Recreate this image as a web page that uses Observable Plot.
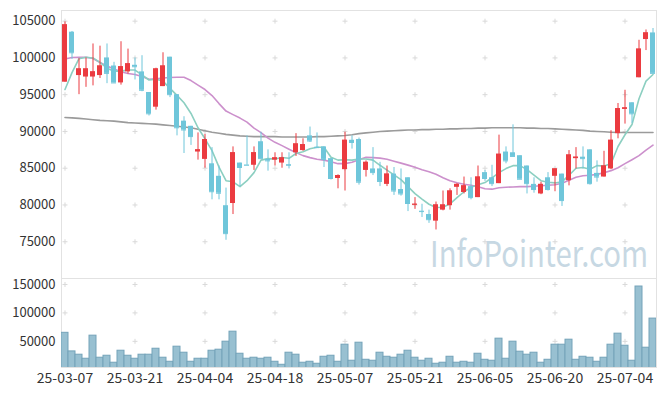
<!DOCTYPE html>
<html><head><meta charset="utf-8">
<script src="https://cdn.jsdelivr.net/npm/d3@7"></script>
<script src="https://cdn.jsdelivr.net/npm/@observablehq/plot@0.6"></script>
<style>
html,body{margin:0;padding:0;background:#fff;}
#chart{position:relative;width:665px;height:396px;overflow:hidden;font-family:"Noto Sans CJK KR","Noto Sans",sans-serif;}
#chart svg{position:absolute;left:0;}
</style></head><body><div id="chart"></div>
<script>
const dates = ["25-03-07","25-03-10","25-03-11","25-03-12","25-03-13","25-03-14","25-03-17","25-03-18","25-03-19","25-03-20",
"25-03-21","25-03-24","25-03-25","25-03-26","25-03-27","25-03-28","25-03-31","25-04-01","25-04-02","25-04-03",
"25-04-04","25-04-07","25-04-08","25-04-09","25-04-10","25-04-11","25-04-14","25-04-15","25-04-16","25-04-17",
"25-04-18","25-04-21","25-04-22","25-04-23","25-04-24","25-04-25","25-04-28","25-04-29","25-04-30","25-05-02",
"25-05-07","25-05-08","25-05-09","25-05-12","25-05-13","25-05-14","25-05-15","25-05-16","25-05-19","25-05-20",
"25-05-21","25-05-22","25-05-23","25-05-26","25-05-27","25-05-28","25-05-29","25-05-30","25-06-02","25-06-04",
"25-06-05","25-06-09","25-06-10","25-06-11","25-06-12","25-06-13","25-06-16","25-06-17","25-06-18","25-06-19",
"25-06-20","25-06-23","25-06-24","25-06-25","25-06-26","25-06-27","25-06-30","25-07-01","25-07-02","25-07-03",
"25-07-04","25-07-07","25-07-08","25-07-09","25-07-10"];
const open = [96700,103500,97600,97400,97400,97600,100000,98900,96600,98100,
99000,98100,95300,93300,96100,100100,95000,91400,90700,87200,
86200,85600,83900,79900,80200,85700,85450,85400,88600,86200,
86100,85700,85500,87100,87400,89400,87850,87900,86300,83600,
84800,88800,88900,84700,84900,84900,82800,84200,82100,83700,
80000,79150,78700,77800,79300,79900,82400,81700,82500,81000,
84400,83700,82900,87200,87100,86700,85300,82800,81500,83700,
83900,84200,83300,86300,86500,87500,84300,83800,84900,89700,
93000,93900,97300,102500,103400];
const high = [104900,103600,99900,100000,101900,101600,101900,99400,102200,101200,
100000,100300,95300,98600,100700,100100,95000,92000,90700,89800,
89600,87800,85300,82300,87900,85700,89400,87900,89900,87500,
87100,87100,87100,89700,89000,90600,89800,87900,86300,84100,
89900,89400,89100,86000,87800,85800,85300,85100,84900,83700,
81000,80100,79300,80400,81900,82200,82900,83800,83700,85300,
84700,85400,89500,87900,90900,86700,85300,83700,83100,84400,
84900,84200,87400,87800,87900,87500,86000,87300,90100,93800,
95600,93900,102400,103800,104000];
const low = [96700,99800,95000,96000,96200,97200,96500,96600,96300,97800,
97000,95400,92100,92900,96100,94600,89400,87000,88100,86100,
85000,80700,80700,75200,78700,82500,85400,84700,86300,84600,
85300,85000,84900,86600,87300,88500,87800,85100,83400,82200,
81900,87600,82700,83800,84000,82500,82500,81300,81200,79100,
79400,78300,77500,76600,79200,79300,81300,81500,80700,81000,
83200,82500,82900,85600,86600,83500,81500,81600,81400,81900,
81800,79800,82600,84900,84900,82700,83100,83800,84800,89000,
91000,91100,97300,101000,97900];
const close = [104500,100700,98500,98500,98100,98900,97900,96600,98800,99200,
98800,95600,92400,98500,98900,95000,90500,90200,89300,87500,
88900,81800,81600,76100,87100,85100,85400,87100,86300,86000,
86400,86400,85400,88300,88200,88700,87800,86200,83600,84000,
88800,88500,83100,85800,84400,83200,84200,81900,81500,80200,
80100,79100,78000,80000,80000,81900,82800,82600,81000,83800,
83600,82900,86900,86000,86600,83500,82900,82100,82800,82100,
84900,80600,86800,86500,86300,82900,83800,85300,88800,93100,
93200,92400,101200,103400,97900];
const volume = [65000,32300,26500,19400,60000,21200,24700,12400,33500,24700,
19400,26500,26500,37000,21200,14100,40600,30000,14100,19400,
19400,33500,35300,49400,67000,28200,19400,21200,19400,21200,
14100,8800,30000,26500,12400,14100,10600,22900,24700,14100,
44100,15900,47600,17600,15900,30000,22900,21200,26500,33500,
21200,15900,19400,10600,12400,22900,12400,14100,12400,28200,
17600,15900,54700,19400,49400,31800,26500,30000,12400,17600,
44100,44100,52900,17600,22900,21200,14100,21200,44100,63500,
42300,15900,146400,38800,90000];
const ma5 = [95700,98000,99900,100100,100000,99400,98600,98200,98200,98350,
98350,97700,97000,97100,96850,95850,94900,93900,92450,90500,
89000,87400,85150,83300,83150,82500,83300,84400,86100,86300,
86250,86450,86350,87000,87250,87650,87850,87850,86500,86100,
86150,86100,86250,86250,86100,85400,84750,84100,83450,82500,
81550,80800,80100,79650,79700,80150,81000,81800,82400,82750,
83050,83700,84400,84950,85350,85350,84800,84050,83300,83100,
83000,83150,84050,85000,85100,84850,85350,85300,85600,87950,
89550,90950,94450,96850,97750];
const ma20 = [99850,100060,100080,100100,99920,99380,98900,98490,98110,97880,
97740,97470,97100,97150,97260,97330,97370,97370,96920,96310,
95700,94880,93790,92770,92290,91820,91270,90450,89840,89090,
88520,88070,87590,87120,86710,86440,86230,86100,85890,85620,
85620,85820,86160,86480,86440,86370,86230,85960,85690,85420,
85120,84800,84530,84190,83710,83300,83030,82830,82690,82490,
82210,82150,82350,82420,82450,82490,82490,82550,82620,82690,
82760,82960,83370,83780,83980,84050,84160,84390,84670,85070,
85620,86160,86710,87460,88140];
const ma120 = [91900,91850,91780,91700,91600,91500,91450,91400,91300,91200,
91150,91100,91050,91000,90900,90800,90700,90600,90500,90300,
90100,89900,89750,89600,89500,89400,89350,89300,89300,89300,
89300,89250,89250,89250,89250,89250,89300,89300,89350,89400,
89450,89550,89700,89800,89900,90000,90050,90100,90150,90200,
90200,90250,90250,90300,90300,90350,90350,90400,90400,90450,
90450,90500,90500,90500,90500,90500,90450,90450,90400,90400,
90350,90300,90250,90200,90150,90050,90000,89950,89900,89850,
89850,89850,89850,89850,89850];
const priceTicks = [75000,80000,85000,90000,95000,100000,105000];
const volumeTicks = [50000,100000,150000];
const labelDates = dates.filter((d,i)=>i%10===0);
const watermark = "InfoPointer.com";

const RED = "#eb3b40", BLUE = "#6fc6da";
const rows = dates.map((d,i)=>({date:d, open:open[i], high:high[i], low:low[i], close:close[i],
  volume:volume[i], ma5:ma5[i], ma20:ma20[i], ma120:ma120[i], col: close[i] >= open[i] ? RED : BLUE}));
const plus = {draw(ctx,size){const r=Math.sqrt(size)/2; ctx.moveTo(-r,0); ctx.lineTo(r,0); ctx.moveTo(0,-r); ctx.lineTo(0,r);}};
const crosses = ys => labelDates.flatMap(d=>ys.map(v=>({date:d, v})));
const font = '"Noto Sans CJK KR","Noto Sans",sans-serif';
const style = {fontFamily:font, fontSize:"13px", color:"#333", background:"transparent", overflow:"visible"};

const price = Plot.plot({
  width:665, height:279, marginTop:10, marginBottom:1, marginLeft:61, marginRight:9,
  style,
  x:{type:"band", domain:dates, padding:0, axis:null},
  y:{domain:[70000,106450], ticks:priceTicks, tickSize:0, tickPadding:6, label:null, tickFormat:d=>String(d)},
  marks:[
    Plot.frame({stroke:"#e2e2e2"}),
    Plot.dot(crosses(priceTicks), {x:"date", y:"v", symbol:plus, r:2.8, stroke:"#d9d9d9", fill:"none", strokeWidth:1}),
    Plot.text([watermark], {text:d=>d, frameAnchor:"bottom-right", textAnchor:"end", lineAnchor:"bottom", fontSize:36, fill:"#c7d8e3", className:"wm"}),
    Plot.line(rows, {x:"date", y:"ma120", stroke:"#9b9b9b", strokeWidth:1.6}),
    Plot.line(rows, {x:"date", y:"ma20", stroke:"#cc90cc", strokeWidth:1.6}),
    Plot.line(rows, {x:"date", y:"ma5", stroke:"#8ccfc1", strokeWidth:1.6}),
    Plot.ruleX(rows, {x:"date", y1:"low", y2:"high", stroke:"col", strokeWidth:1}),
    Plot.barY(rows, {x:"date", y1:"open", y2:"close", fill:"col", insetLeft:1, insetRight:1}),
    Plot.tickY(rows, {x:"date", y:"close", stroke:"col", insetLeft:1, insetRight:1})
  ]
});
price.style.top = "0px";

const vol = Plot.plot({
  width:665, height:126, marginTop:8, marginBottom:29, marginLeft:61, marginRight:9,
  style,
  x:{type:"band", domain:dates, padding:0, ticks:labelDates, tickSize:0, tickPadding:6, label:null},
  y:{domain:[4000,160500], ticks:volumeTicks, tickSize:0, tickPadding:6, label:null, tickFormat:d=>String(d)},
  marks:[
    Plot.frame({stroke:"#e2e2e2"}),
    Plot.dot(crosses(volumeTicks), {x:"date", y:"v", symbol:plus, r:2.8, stroke:"#d9d9d9", fill:"none", strokeWidth:1}),
    Plot.barY(rows, {x:"date", y:"volume", fill:"#98c0d1", stroke:"#74a3b9", strokeWidth:1, clip:true})
  ]
});
vol.style.top = "270px";
vol.querySelectorAll("[aria-label='x-axis tick label'] text").forEach(t => { t.style.fontSize = "14px"; });

const chart = document.getElementById("chart");
chart.appendChild(vol);
chart.appendChild(price);

// squeeze the watermark horizontally so it spans the same width as in the reference
const wmG = price.querySelector("g.wm");
const wmT = wmG && wmG.querySelector("text");
if (wmT) {
  const len = wmT.getComputedTextLength();
  const s = 218 / len;
  wmG.setAttribute("transform", `translate(648,-11) scale(${s},1) translate(-656,0)`);
}
</script>
</body></html>
